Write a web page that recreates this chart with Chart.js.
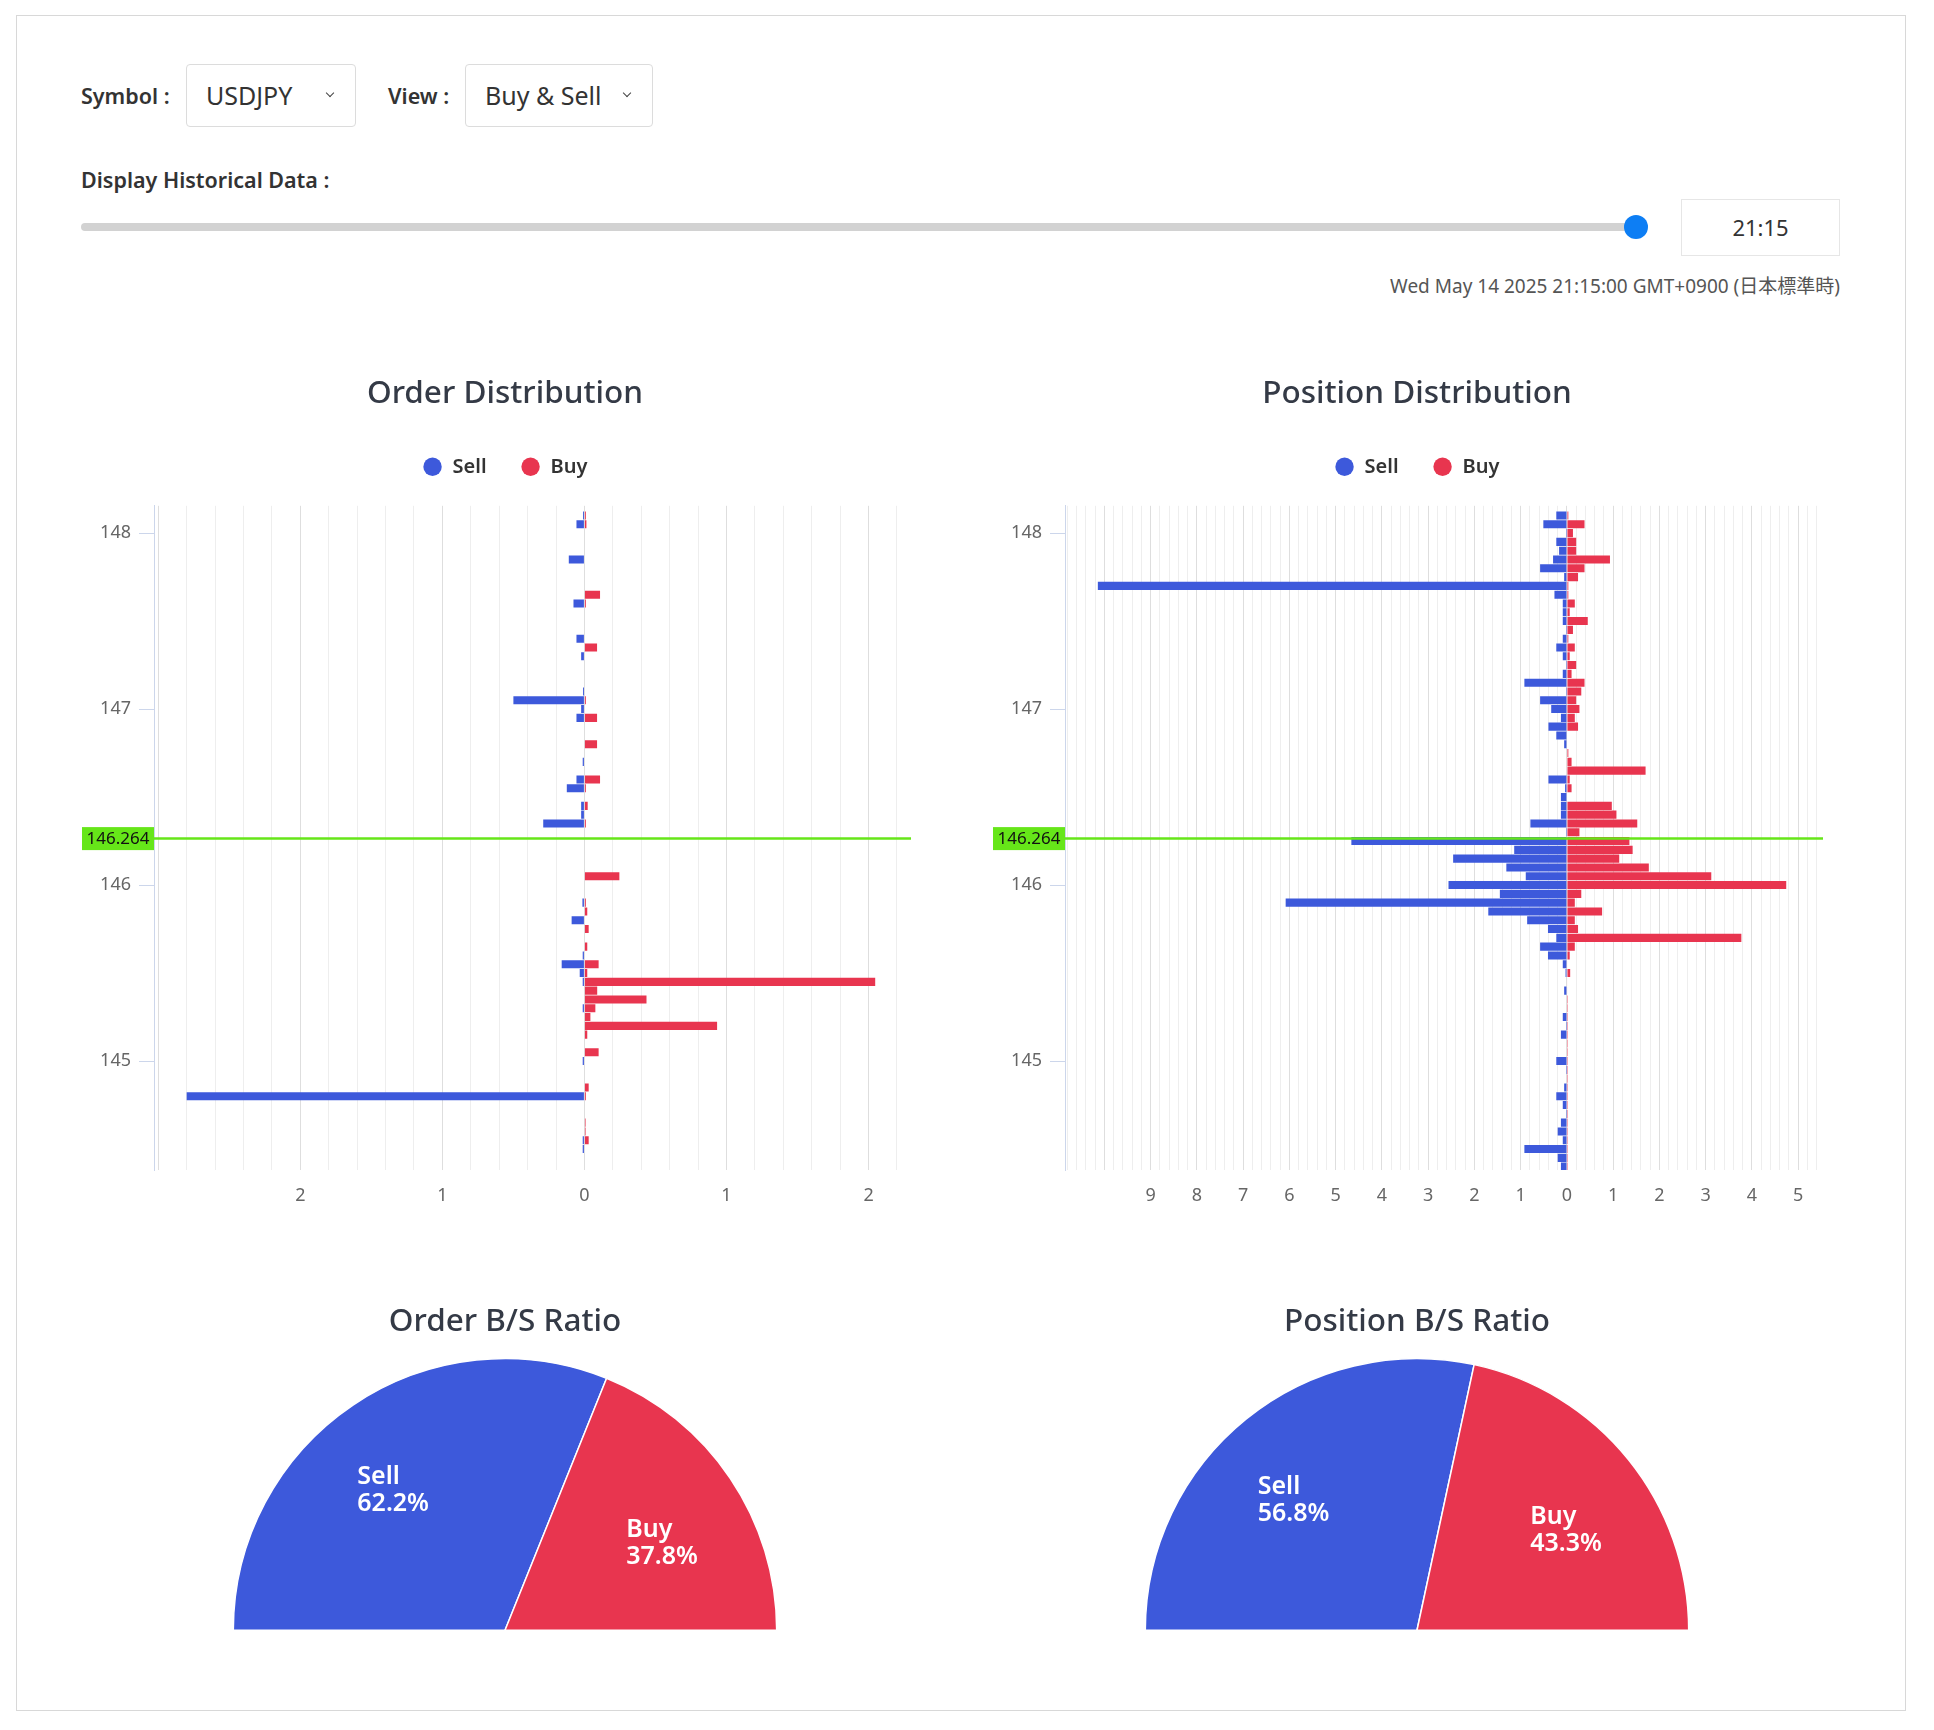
<!DOCTYPE html>
<html>
<head>
<meta charset="utf-8">
<script src="https://cdn.jsdelivr.net/npm/chart.js@4.4.1/dist/chart.umd.min.js"></script>
<style>
  body { margin: 0; background: #fff; font-family: "Noto Sans", "Noto Sans CJK JP", sans-serif; color: #333; }
  #page { position: relative; width: 1934px; height: 1730px; overflow: hidden; }
  #frame { position: absolute; left: 16px; top: 15px; width: 1888px; height: 1694px; border: 1px solid #d8d8d8; }
  .lbl { position: absolute; height: 40px; line-height: 40px; font-size: 21.5px; font-weight: 600; color: #333; white-space: nowrap; }
  .sel { position: absolute; top: 64px; height: 63px; box-sizing: border-box; border: 1px solid #dcdcdc; border-radius: 4px;
         font-size: 25px; line-height: 61px; padding-left: 19px; color: #333; white-space: nowrap; }
  .chev { position: absolute; top: 25px; width: 5px; height: 5px; border-right: 1.5px solid #444; border-bottom: 1.5px solid #444; transform: rotate(45deg); }
  #track { position: absolute; left: 81px; top: 223px; width: 1559px; height: 8px; border-radius: 4px; background: #d2d2d2; }
  #thumb { position: absolute; left: 1624px; top: 215px; width: 24px; height: 24px; border-radius: 50%; background: #0d7ef4; }
  #timebox { position: absolute; left: 1681px; top: 199px; width: 159px; height: 57px; box-sizing: border-box; border: 1px solid #e6e6e6;
             text-align: center; line-height: 55px; font-size: 22px; color: #333; }
  #stamp { position: absolute; right: 94px; top: 271px; line-height: 30px; font-size: 19px; color: #555; white-space: nowrap; }
  .box { position: absolute; }
</style>
</head>
<body>
<div id="page">
  <div id="frame"></div>

  <div class="lbl" style="left:81px; top:76px;">Symbol :</div>
  <div class="sel" style="left:186px; width:170px;">USDJPY<span class="chev" style="left:140px;"></span></div>
  <div class="lbl" style="left:388px; top:76px;">View :</div>
  <div class="sel" style="left:465px; width:188px;">Buy &amp; Sell<span class="chev" style="left:158px;"></span></div>

  <div class="lbl" style="left:81px; top:160px;">Display Historical Data :</div>
  <div id="track"></div>
  <div id="thumb"></div>
  <div id="timebox">21:15</div>
  <div id="stamp">Wed May 14 2025 21:15:00 GMT+0900 (日本標準時)</div>

  <div class="box" style="left:81px; top:350px; width:848px; height:880px;"><canvas id="orderDist"></canvas></div>
  <div class="box" style="left:993px; top:350px; width:848px; height:880px;"><canvas id="positionDist"></canvas></div>
  <div class="box" style="left:81px; top:1280px; width:848px; height:351px;"><canvas id="orderRatio"></canvas></div>
  <div class="box" style="left:993px; top:1280px; width:848px; height:351px;"><canvas id="positionRatio"></canvas></div>
</div>

<script>
const SELL_COLOR = '#3d59db';
const BUY_COLOR = '#e8354f';
const LINE_GREEN = '#66e619';

const seriesNames = ['Sell', 'Buy'];
const currentPrice = 146.264;
const priceRange = [144.381, 148.155];

// order book, price level -> volume (sell drawn to the left)
const orderLevels = [148.10, 148.05, 147.85, 147.65, 147.60, 147.40, 147.35, 147.30, 147.10, 147.05,
                     147.00, 146.95, 146.80, 146.70, 146.60, 146.55, 146.45, 146.40, 146.35, 146.05,
                     145.90, 145.85, 145.80, 145.75, 145.65, 145.60, 145.55, 145.50, 145.45, 145.40,
                     145.35, 145.30, 145.25, 145.20, 145.15, 145.05, 145.00, 144.85, 144.80, 144.65,
                     144.60, 144.55, 144.50];
const orderSell = [0.01, 0.056, 0.11, 0, 0.077, 0.056, 0, 0.023, 0.01, 0.50,
                   0.023, 0.056, 0, 0.012, 0.056, 0.124, 0.023, 0.023, 0.29, 0,
                   0.014, 0, 0.09, 0, 0, 0.012, 0.16, 0.033, 0.012, 0,
                   0, 0.012, 0, 0, 0, 0, 0.012, 0, 2.80, 0,
                   0, 0.012, 0.012];
const orderBuy = [0.01, 0.014, 0, 0.11, 0.01, 0, 0.089, 0, 0, 0.01,
                  0, 0.089, 0.089, 0, 0.11, 0.01, 0.023, 0, 0.01, 0.246,
                  0.01, 0.02, 0, 0.03, 0.02, 0, 0.10, 0.02, 2.047, 0.09,
                  0.437, 0.077, 0.042, 0.934, 0.02, 0.10, 0, 0.03, 0.01, 0.008,
                  0.008, 0.03, 0];
const orderRange = [-3.03, 2.299];
const orderTickLabels = [-2, -1, 0, 1, 2];

// open positions
const positionLevels = [148.10, 148.05, 148.00, 147.95, 147.90, 147.85, 147.80, 147.75, 147.70, 147.65,
                        147.60, 147.55, 147.50, 147.45, 147.40, 147.35, 147.30, 147.25, 147.20, 147.15,
                        147.10, 147.05, 147.00, 146.95, 146.90, 146.85, 146.80, 146.75, 146.70, 146.65,
                        146.60, 146.55, 146.50, 146.45, 146.40, 146.35, 146.30, 146.25, 146.20, 146.15,
                        146.10, 146.05, 146.00, 145.95, 145.90, 145.85, 145.80, 145.75, 145.70, 145.65,
                        145.60, 145.55, 145.50, 145.45, 145.40, 145.35, 145.30, 145.25, 145.20, 145.15,
                        145.10, 145.05, 145.00, 144.95, 144.90, 144.85, 144.80, 144.75, 144.70, 144.65,
                        144.60, 144.55, 144.50, 144.45, 144.40];
const positionSell = [0.23, 0.51, 0.02, 0.23, 0.17, 0.30, 0.58, 0.06, 10.14, 0.27,
                      0.09, 0.09, 0.09, 0.02, 0.09, 0.23, 0.09, 0.02, 0.09, 0.92,
                      0.02, 0.58, 0.34, 0.13, 0.40, 0.23, 0.06, 0, 0, 0,
                      0.40, 0.04, 0.13, 0.13, 0.13, 0.79, 0.02, 4.66, 1.14, 2.46,
                      1.31, 0.89, 2.56, 1.45, 6.08, 1.70, 0.86, 0.41, 0.23, 0.58,
                      0.41, 0.09, 0.03, 0, 0.06, 0, 0, 0.09, 0.02, 0.13,
                      0, 0, 0.23, 0.02, 0, 0.06, 0.23, 0.09, 0.02, 0.13,
                      0.20, 0.09, 0.92, 0.20, 0.13];
const positionBuy = [0.03, 0.38, 0.13, 0.20, 0.20, 0.93, 0.38, 0.24, 0.03, 0.03,
                     0.17, 0.06, 0.45, 0.13, 0.03, 0.17, 0.06, 0.20, 0.10, 0.38,
                     0.31, 0.20, 0.27, 0.17, 0.24, 0, 0, 0.03, 0.10, 1.70,
                     0.06, 0.10, 0, 0.97, 1.07, 1.52, 0.27, 1.35, 1.42, 1.13,
                     1.77, 3.12, 4.74, 0.31, 0.17, 0.76, 0.17, 0.24, 3.77, 0.17,
                     0.06, 0.01, 0.07, 0.01, 0.01, 0.02, 0.02, 0.02, 0.02, 0.02,
                     0.02, 0.02, 0.02, 0.02, 0.02, 0.02, 0.02, 0.02, 0.02, 0.02,
                     0.02, 0.02, 0.02, 0.02, 0.02];
const positionRange = [-10.85, 5.535];
const positionTickLabels = [-9, -8, -7, -6, -5, -4, -3, -2, -1, 0, 1, 2, 3, 4, 5];

const orderRatio = [62.2, 37.8];
const positionRatio = [56.8, 43.3];

Chart.defaults.font.family = '"Noto Sans", sans-serif';

// green line + price tag at the current rate
const priceLine = {
    id: 'priceLine',
    afterDatasetsDraw(chart) {
        const { ctx, chartArea, scales } = chart;
        const y = scales.y.getPixelForValue(currentPrice);
        ctx.save();
        ctx.strokeStyle = LINE_GREEN;
        ctx.lineWidth = 2.5;
        ctx.beginPath();
        ctx.moveTo(chartArea.left, y);
        ctx.lineTo(chartArea.right, y);
        ctx.stroke();
        const w = 72, h = 23;
        ctx.fillStyle = LINE_GREEN;
        ctx.fillRect(chartArea.left - w, y - h / 2, w, h);
        ctx.fillStyle = '#111';
        ctx.font = '17px "Noto Sans"';
        ctx.textAlign = 'center';
        ctx.textBaseline = 'middle';
        ctx.fillText(currentPrice.toFixed(3), chartArea.left - w / 2, y + 1);
        ctx.restore();
    }
};

// extra room under the legend
const legendGap = {
    id: 'legendGap',
    beforeInit(chart) {
        const fitLegend = chart.legend.fit;
        chart.legend.fit = function () {
            fitLegend.bind(chart.legend)();
            this.height += 19;
        };
    }
};

function isWhole(v) {
    return Math.abs(v - Math.round(v)) < 1e-6;
}

function makeDistChart(id, titleText, levels, sell, buy, range, tickLabels, axisWidth) {
    return new Chart(document.getElementById(id), {
        type: 'bar',
        data: {
            datasets: [
                {
                    label: seriesNames[0],
                    data: levels.map((p, i) => ({ y: p, x: -sell[i] })),
                    backgroundColor: SELL_COLOR,
                    grouped: false, categoryPercentage: 1, barPercentage: 0.92
                },
                {
                    label: seriesNames[1],
                    data: levels.map((p, i) => ({ y: p, x: buy[i] })),
                    backgroundColor: BUY_COLOR,
                    grouped: false, categoryPercentage: 1, barPercentage: 0.92
                }
            ]
        },
        options: {
            indexAxis: 'y',
            responsive: true,
            maintainAspectRatio: false,
            animation: false,
            layout: { padding: { left: 18, right: 18 } },
            plugins: {
                title: {
                    display: true,
                    text: titleText,
                    color: '#343a46',
                    font: { size: 31.5, weight: '500' },
                    padding: { top: 25, bottom: 10 }
                },
                legend: {
                    labels: {
                        usePointStyle: true,
                        pointStyle: 'circle',
                        boxHeight: 13,
                        padding: 34,
                        color: '#333',
                        font: { size: 20, weight: '600' }
                    }
                },
                tooltip: { enabled: false }
            },
            scales: {
                x: {
                    type: 'linear',
                    min: range[0],
                    max: range[1],
                    afterFit: (scale) => { scale.height = 60; },
                    border: { display: false },
                    grid: {
                        drawTicks: false,
                        color: (c) => isWhole(c.tick.value) ? '#dedede' : '#eeeeee'
                    },
                    ticks: {
                        stepSize: 0.2,
                        includeBounds: false,
                        autoSkip: false,
                        maxRotation: 0,
                        padding: 15,
                        color: '#666',
                        font: { size: 18 },
                        callback: (v) => {
                            const r = Math.round(v);
                            return isWhole(v) && tickLabels.includes(r) ? String(Math.abs(r)) : '';
                        }
                    }
                },
                y: {
                    type: 'linear',
                    offset: false,
                    min: priceRange[0],
                    max: priceRange[1],
                    afterFit: (scale) => { scale.width = axisWidth; },
                    border: { color: '#ccd6eb', width: 1 },
                    grid: {
                        offset: false,
                        drawOnChartArea: false,
                        drawTicks: true,
                        tickLength: 15,
                        tickColor: '#ccd6eb'
                    },
                    ticks: {
                        stepSize: 1,
                        includeBounds: false,
                        padding: 8,
                        color: '#666',
                        font: { size: 18 },
                        callback: (v) => v.toFixed(0)
                    }
                }
            }
        },
        plugins: [priceLine, legendGap]
    });
}

// Sell / Buy text inside each half-pie slice
const sliceLabels = {
    id: 'sliceLabels',
    afterDatasetsDraw(chart) {
        const { ctx } = chart;
        const values = chart.data.datasets[0].data;
        chart.getDatasetMeta(0).data.forEach((arc, i) => {
            const { x, y, startAngle, endAngle, outerRadius } =
                arc.getProps(['x', 'y', 'startAngle', 'endAngle', 'outerRadius'], true);
            // nudge each label a little away from the shared edge
            const mid = (startAngle + endAngle) / 2 + (i === 0 ? -0.08 : 0.09);
            const r = outerRadius * 0.66;
            const cx = x + Math.cos(mid) * r;
            const cy = y + Math.sin(mid) * r;
            const lines = [chart.data.labels[i], values[i].toFixed(1) + '%'];
            ctx.save();
            ctx.font = '600 25px "Noto Sans"';
            ctx.fillStyle = '#fff';
            ctx.textBaseline = 'middle';
            const w = Math.max(...lines.map(t => ctx.measureText(t).width));
            lines.forEach((t, k) => ctx.fillText(t, cx - w / 2, cy + (k - 0.5) * 27));
            ctx.restore();
        });
    }
};

function makeRatioChart(id, titleText, ratio) {
    return new Chart(document.getElementById(id), {
        type: 'pie',
        data: {
            labels: seriesNames,
            datasets: [{
                data: ratio,
                backgroundColor: [SELL_COLOR, BUY_COLOR],
                borderColor: '#fff',
                borderWidth: 1.5,
                hoverOffset: 0
            }]
        },
        options: {
            rotation: -90,
            circumference: 180,
            responsive: true,
            maintainAspectRatio: false,
            animation: false,
            plugins: {
                title: {
                    display: true,
                    text: titleText,
                    color: '#343a46',
                    font: { size: 31.5, weight: '500' },
                    padding: { top: 23, bottom: 17 }
                },
                legend: { display: false },
                tooltip: { enabled: false }
            }
        },
        plugins: [sliceLabels]
    });
}

makeDistChart('orderDist', 'Order Distribution', orderLevels, orderSell, orderBuy, orderRange, orderTickLabels, 55);
makeDistChart('positionDist', 'Position Distribution', positionLevels, positionSell, positionBuy, positionRange, positionTickLabels, 54);
makeRatioChart('orderRatio', 'Order B/S Ratio', orderRatio);
makeRatioChart('positionRatio', 'Position B/S Ratio', positionRatio);
</script>
</body>
</html>
